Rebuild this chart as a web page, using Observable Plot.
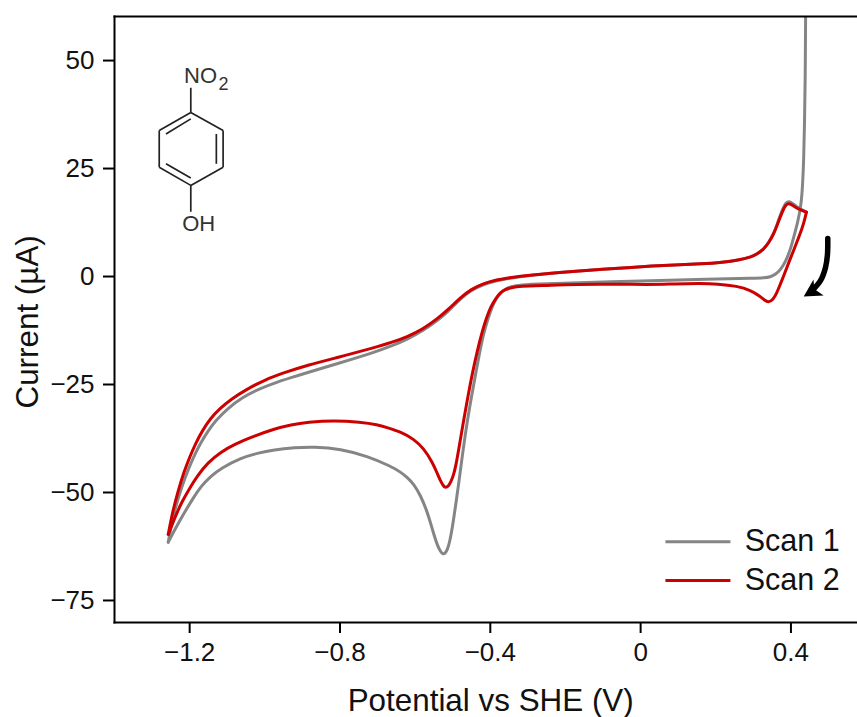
<!DOCTYPE html>
<html><head><meta charset="utf-8">
<script src="https://cdn.jsdelivr.net/npm/d3@7"></script>
<script src="https://cdn.jsdelivr.net/npm/@observablehq/plot@0.6"></script>
<style>html,body{margin:0;padding:0;background:#fff}svg{display:block}</style>
</head><body><div id="chart"></div>
<script>
// Each branch of the voltammogram as [potential V, current µA]
const scan1Cathodic = [[0.439,60],[0.438,45],[0.436,35],[0.434,27],[0.431,21],[0.427,16.5],[0.418,12.5],[0.41,10],[0.399,6.3],[0.386,3.5],[0.372,1.5],[0.358,0.4],[0.345,-0.1],[0.33,-0.3],[0.3,-0.4],[0.213,-0.5],[-0.106,-1.3],[-0.266,-1.7],[-0.319,-1.9],[-0.346,-2.3],[-0.36,-2.9],[-0.372,-3.7],[-0.384,-5],[-0.394,-6.8],[-0.405,-9.4],[-0.418,-13.2],[-0.428,-17.4],[-0.439,-22.5],[-0.45,-27.8],[-0.461,-33.3],[-0.472,-39.8],[-0.484,-47.9],[-0.492,-52.8],[-0.501,-58.2],[-0.508,-61.4],[-0.514,-63.2],[-0.52,-64.1],[-0.526,-64.3],[-0.532,-63.8],[-0.541,-62.2],[-0.55,-59.8],[-0.559,-57],[-0.57,-54],[-0.585,-50.8],[-0.604,-48],[-0.62,-46.6],[-0.638,-45.3],[-0.665,-43.9],[-0.727,-41.6],[-0.798,-39.9],[-0.87,-39.4],[-0.92,-39.6],[-0.976,-40.1],[-1.02,-40.9],[-1.064,-42],[-1.117,-44.4],[-1.145,-46.3],[-1.17,-48.6],[-1.19,-51.2],[-1.215,-54.8],[-1.237,-58.2],[-1.257,-61.5]];
const scan1Anodic = [[-1.257,-61.5],[-1.245,-56],[-1.23,-51],[-1.21,-46],[-1.19,-41.8],[-1.17,-38.4],[-1.15,-35.6],[-1.13,-33.3],[-1.1,-30.6],[-1.06,-28],[-1.02,-26.2],[-0.976,-24.7],[-0.93,-23.4],[-0.886,-22.2],[-0.8,-20],[-0.71,-17.6],[-0.66,-16],[-0.62,-14.5],[-0.58,-12.6],[-0.54,-10.2],[-0.51,-7.9],[-0.48,-5.2],[-0.45,-3.1],[-0.42,-1.9],[-0.39,-1.1],[-0.35,-0.4],[-0.3,0.25],[-0.18,1.2],[-0.02,2.2],[0.1,2.7],[0.16,2.9],[0.22,3.3],[0.26,3.8],[0.293,4.5],[0.31,5.2],[0.327,6.3],[0.34,7.7],[0.354,9.9],[0.366,12.8],[0.377,15.5],[0.386,17.1],[0.396,17.5],[0.405,16.9],[0.418,15.9],[0.441,14.9]];
const scan2Cathodic = [[0.441,14.9],[0.437,13.3],[0.43,11.2],[0.417,8.2],[0.394,3.2],[0.38,0],[0.372,-1.7],[0.362,-3.9],[0.352,-5.4],[0.34,-6],[0.33,-5.5],[0.318,-4.6],[0.293,-3.2],[0.257,-2.2],[0.204,-1.7],[0.16,-1.6],[0.088,-1.7],[0.027,-1.9],[-0.106,-1.7],[-0.266,-2.1],[-0.319,-2.2],[-0.346,-2.6],[-0.36,-3],[-0.372,-3.6],[-0.385,-5],[-0.399,-7],[-0.41,-9.5],[-0.421,-12.5],[-0.435,-17.3],[-0.448,-22.5],[-0.46,-28],[-0.471,-33.3],[-0.482,-39],[-0.492,-44],[-0.498,-46],[-0.505,-47.6],[-0.512,-48.6],[-0.519,-48.9],[-0.525,-48.5],[-0.532,-47.4],[-0.54,-45.8],[-0.554,-43],[-0.577,-39.8],[-0.604,-37.6],[-0.638,-36],[-0.674,-35],[-0.7,-34.3],[-0.745,-33.7],[-0.816,-33.3],[-0.886,-33.7],[-0.93,-34.3],[-0.976,-35.3],[-1.03,-37],[-1.08,-38.8],[-1.117,-40.6],[-1.152,-43.1],[-1.18,-46.2],[-1.2,-49],[-1.223,-52.5],[-1.24,-56],[-1.257,-59.7]];
const scan2Anodic = [[-1.257,-59.7],[-1.245,-54.3],[-1.23,-49.4],[-1.215,-45.2],[-1.2,-41.8],[-1.184,-38.6],[-1.165,-35.5],[-1.144,-32.8],[-1.12,-30.6],[-1.09,-28.4],[-1.05,-26.2],[-1,-23.9],[-0.95,-22.3],[-0.886,-20.5],[-0.8,-18.6],[-0.71,-16.5],[-0.66,-15.2],[-0.62,-13.9],[-0.58,-12.2],[-0.541,-9.8],[-0.51,-7.5],[-0.48,-4.9],[-0.45,-2.9],[-0.42,-1.7],[-0.39,-0.9],[-0.35,-0.3],[-0.3,0.3],[-0.178,1.2],[-0.019,2.2],[0.1,2.7],[0.16,2.9],[0.22,3.3],[0.26,3.8],[0.293,4.5],[0.31,5.2],[0.327,6.3],[0.34,7.7],[0.354,9.8],[0.366,12.5],[0.377,15],[0.386,16.6],[0.394,17],[0.405,16.5],[0.417,15.7],[0.441,14.9]];
const xTicks = [-1.2,-0.8,-0.4,0,0.4];
const yTicks = [-75,-50,-25,0,25,50];
const seriesNames = ["Scan 1","Scan 2"];
const seriesColors = ["#858585","#cc0000"];
// Legend and annotation anchors, in data units
const legendY = [-61.4,-70.4];
const arrowShaft = [[0.498,8.8],[0.497,4.9],[0.492,2.1],[0.479,-0.9],[0.459,-3]];
const arrowHead = [[0.434,-4.6],[0.46,-0.7],[0.462,-2.9],[0.487,-4.4]];
const bonds = [
 [-1.197,43.7,-1.197,38],[-1.197,38,-1.111,33.8],[-1.111,33.8,-1.111,25.3],[-1.111,25.3,-1.197,21.1],
 [-1.197,21.1,-1.281,25.3],[-1.281,25.3,-1.281,33.8],[-1.281,33.8,-1.197,38],[-1.197,21.1,-1.197,15],
 [-1.129,33,-1.129,26.1],[-1.263,33,-1.197,36.5],[-1.263,26.1,-1.197,22.8]
];

const font = "'Liberation Sans', Arial, sans-serif";
const branch = (pts, stroke) => Plot.line(pts, {x:d=>d[0], y:d=>d[1], stroke, strokeWidth:3, curve:"basis"});
const chemText = (t,x,y,size,anchor) => Plot.text([t],{x:[x],y:[y],fontSize:size,textAnchor:anchor,fill:"#333",text:d=>d});

const chart = Plot.plot({
  width:857, height:717,
  marginLeft:114, marginRight:0, marginTop:16, marginBottom:95,
  style:{fontFamily:font, background:"#fff", color:"#111"},
  x:{domain:[-1.4,0.5771]},
  y:{domain:[-80.1,60.2]},
  marks:[
    branch(scan1Cathodic,seriesColors[0]),
    branch(scan1Anodic,seriesColors[0]),
    branch(scan2Cathodic,seriesColors[1]),
    branch(scan2Anodic,seriesColors[1]),
    Plot.frame({anchor:"left",stroke:"#000",strokeWidth:2}),
    Plot.frame({anchor:"top",stroke:"#000",strokeWidth:2}),
    Plot.frame({anchor:"bottom",stroke:"#000",strokeWidth:2}),
    Plot.axisX({ticks:xTicks,label:null,tickSize:11,tickPadding:9,fontSize:26,strokeWidth:2,stroke:"#000",fill:"#111",tickFormat:d3.format(".1~f")}),
    Plot.axisY({ticks:yTicks,label:null,tickSize:11,tickPadding:9,fontSize:26,strokeWidth:2,stroke:"#000",fill:"#111"}),
    Plot.text(["Potential vs SHE (V)"],{x:[-0.399],frameAnchor:"bottom",lineAnchor:"middle",dy:78,fontSize:31.4,fill:"#111",text:d=>d}),
    Plot.text(["Current (µA)"],{y:[-10.5],frameAnchor:"left",textAnchor:"middle",lineAnchor:"middle",dx:-87,rotate:-90,fontSize:31.4,fill:"#111",text:d=>d}),
    Plot.link(seriesNames,{x1:()=>0.066,x2:()=>0.239,y1:(d,i)=>legendY[i],y2:(d,i)=>legendY[i],stroke:(d,i)=>seriesColors[i],strokeWidth:3}),
    Plot.text(seriesNames,{x:()=>0.277,y:(d,i)=>legendY[i],text:d=>d,textAnchor:"start",fontSize:30.5,fill:"#111"}),
    Plot.line(arrowShaft,{x:d=>d[0],y:d=>d[1],stroke:"#000",strokeWidth:5.5,curve:"catmull-rom"}),
    Plot.line(arrowHead,{x:d=>d[0],y:d=>d[1],fill:"#000",stroke:"none",curve:"linear-closed"}),
    Plot.link(bonds,{x1:d=>d[0],y1:d=>d[1],x2:d=>d[2],y2:d=>d[3],stroke:"#222",strokeWidth:1.7}),
    chemText("NO",-1.215,46.5,22,"start"),
    chemText("2",-1.11,44.6,18,"middle"),
    chemText("OH",-1.176,12.2,22,"middle")
  ]
});
document.getElementById("chart").append(chart);
</script></body></html>
